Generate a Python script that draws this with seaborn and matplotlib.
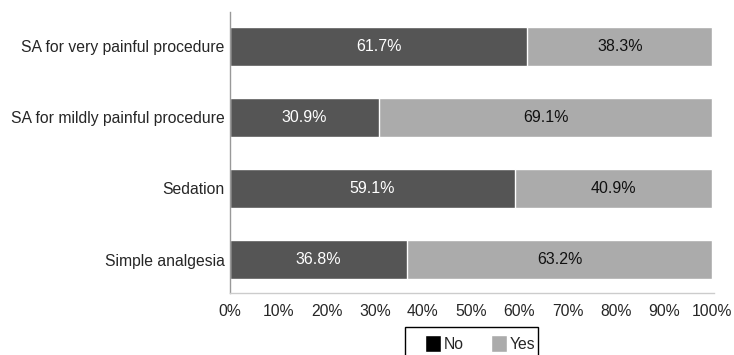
import matplotlib
matplotlib.use("Agg")
import matplotlib.pyplot as plt
from matplotlib.patches import Patch, Rectangle
import seaborn as sns
import pandas as pd

categories = [
    "SA for very painful procedure",
    "SA for mildly painful procedure",
    "Sedation",
    "Simple analgesia",
]
no_pct = [61.7, 30.9, 59.1, 36.8]
yes_pct = [38.3, 69.1, 40.9, 63.2]
x_ticks = [0, 10, 20, 30, 40, 50, 60, 70, 80, 90, 100]

dark = "#555555"
light = "#ababab"

sns.set_theme(style="white")
plt.rcParams["font.family"] = ["Liberation Sans", "DejaVu Sans"]

df = pd.DataFrame({"category": categories, "No": no_pct, "Yes": yes_pct})
df["total"] = df["No"] + df["Yes"]

W, H = 734, 355
fig = plt.figure(figsize=(W / 100, H / 100), dpi=100)
ax = fig.add_axes([0.3134, 0.1746, 0.6594, 0.7915])

# Stacked horizontal bars: full total in light gray, "No" share on top in dark gray
sns.barplot(data=df, y="category", x="total", color=light, orient="h",
            width=0.55, saturation=1, edgecolor="white", linewidth=1, ax=ax)
sns.barplot(data=df, y="category", x="No", color=dark, orient="h",
            width=0.55, saturation=1, edgecolor="white", linewidth=1, ax=ax)

for i, (n, y) in enumerate(zip(no_pct, yes_pct)):
    ax.text(n / 2, i, f"{n:.1f}%", ha="center", va="center",
            color="white", fontsize=11.5)
    ax.text(n + y / 2, i, f"{y:.1f}%", ha="center", va="center",
            color="#111111", fontsize=11.5)

ax.set_xlim(0, 100.4)
ax.set_ylim(3.47, -0.48)
ax.set_xticks(x_ticks)
ax.set_xticklabels([f"{t}%" for t in x_ticks], fontsize=11.3)
ax.tick_params(axis="y", labelsize=11.3, length=0, pad=4)
ax.tick_params(axis="x", length=0, pad=8)
ax.set_xlabel("")
ax.set_ylabel("")
for side in ["top", "right"]:
    ax.spines[side].set_visible(False)
ax.spines["left"].set_color("#999999")
ax.spines["left"].set_linewidth(1)
ax.spines["bottom"].set_color("#cccccc")
ax.spines["bottom"].set_linewidth(1)

# Legend entries without a frame, boxed by a separate rectangle
handles = [Patch(facecolor="black", label="No"),
           Patch(facecolor=light, label="Yes")]
fig.legend(handles=handles, loc="upper left",
           bbox_to_anchor=(425 / W, 1 - 335 / H), ncol=2, frameon=False,
           fontsize=11.3, handlelength=1.05, handleheight=1.3,
           handletextpad=0.15, columnspacing=1.7, borderpad=0,
           borderaxespad=0)
fig.patches.append(Rectangle((405 / W, -0.1), 133 / W, 0.1 + 1 - 327 / H,
                             transform=fig.transFigure, fill=False,
                             edgecolor="black", linewidth=1))

fig.savefig("out.png", dpi=100)
